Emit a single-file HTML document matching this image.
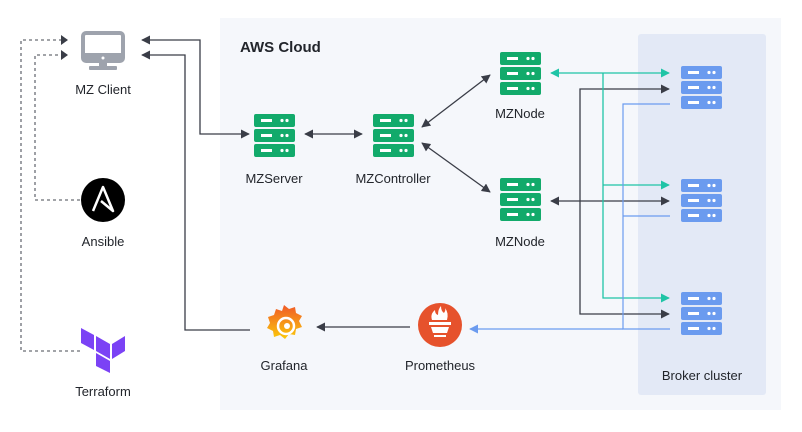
<!DOCTYPE html>
<html><head><style>
body{margin:0;background:#fff;}
svg{display:block;font-family:"Liberation Sans",Arial,sans-serif;}
</style></head><body>
<svg width="802" height="432" viewBox="0 0 802 432" xmlns="http://www.w3.org/2000/svg">
<defs>
<marker id="ad" viewBox="0 0 10 10" refX="9" refY="5" markerWidth="9" markerHeight="9" markerUnits="userSpaceOnUse" orient="auto-start-reverse"><path d="M0,0 L10,5 L0,10 z" fill="#3a3d47"/></marker>
<marker id="at" viewBox="0 0 10 10" refX="9" refY="5" markerWidth="9" markerHeight="9" markerUnits="userSpaceOnUse" orient="auto-start-reverse"><path d="M0,0 L10,5 L0,10 z" fill="#1fc4a6"/></marker>
<marker id="ab" viewBox="0 0 10 10" refX="9" refY="5" markerWidth="9" markerHeight="9" markerUnits="userSpaceOnUse" orient="auto-start-reverse"><path d="M0,0 L10,5 L0,10 z" fill="#6b9bef"/></marker>
<g id="srv">
<rect x="0" y="0" width="41" height="13" rx="2"/>
<rect x="0" y="15" width="41" height="13" rx="2"/>
<rect x="0" y="30" width="41" height="13" rx="2"/>
<g fill="#fff"><rect x="7" y="5" width="11" height="3"/><rect x="7" y="20" width="11" height="3"/><rect x="7" y="35" width="11" height="3"/>
<circle cx="28" cy="6.5" r="1.6"/><circle cx="33" cy="6.5" r="1.6"/><circle cx="28" cy="21.5" r="1.6"/><circle cx="33" cy="21.5" r="1.6"/><circle cx="28" cy="36.5" r="1.6"/><circle cx="33" cy="36.5" r="1.6"/></g>
</g>
</defs>
<rect x="220" y="18" width="561" height="392" fill="#f5f7fb"/>
<rect x="638" y="34" width="128" height="361" rx="3" fill="#e3e9f6"/>
<text x="240" y="52" font-size="15" font-weight="bold" fill="#22252b">AWS Cloud</text>

<!-- dashed -->
<g fill="none" stroke="#6a6d75" stroke-width="1.3" stroke-dasharray="3,3">
<path d="M80,200 H35 V55 H62"/>
<path d="M80,351 H21 V40 H62"/>
</g>
<path d="M61,35 L68,40 L61,45z M61,50 L68,55 L61,60z" fill="#3a3d47"/>

<!-- client lines -->
<g fill="none" stroke="#3a3d47" stroke-width="1.3">
<path d="M142,40 H200 V134 H249" marker-start="url(#ad)" marker-end="url(#ad)"/>
<path d="M142,55 H185 V330 H250" marker-start="url(#ad)"/>
<path d="M305,134 H362" marker-start="url(#ad)" marker-end="url(#ad)"/>
<path d="M422,127 L490,75" marker-start="url(#ad)" marker-end="url(#ad)"/>
<path d="M422,143 L490,192" marker-start="url(#ad)" marker-end="url(#ad)"/>
<path d="M410,327 H317" marker-end="url(#ad)"/>
<path d="M551,201 H669" marker-start="url(#ad)" marker-end="url(#ad)"/>
<path d="M669,89 H580 V314 H669" marker-start="url(#ad)" marker-end="url(#ad)"/>
</g>
<g fill="none" stroke="#1fc4a6" stroke-width="1.3">
<path d="M551,73 H669" marker-start="url(#at)" marker-end="url(#at)"/>
<path d="M603,73 V298 H669" marker-end="url(#at)"/>
<path d="M603,185 H669" marker-end="url(#at)"/>
</g>
<g fill="none" stroke="#6b9bef" stroke-width="1.2">
<path d="M670,104 H623 V329 H670"/>
<path d="M623,216 H670"/>
<path d="M623,329 H470" marker-end="url(#ab)"/>
</g>

<!-- monitor -->
<rect x="83" y="33" width="40" height="28" rx="3" fill="none" stroke="#9ea3ad" stroke-width="4"/>
<rect x="83" y="53" width="40" height="8" fill="#9ea3ad"/>
<circle cx="103" cy="58" r="1.5" fill="#fff"/>
<rect x="99" y="61" width="8" height="6" fill="#9ea3ad"/>
<rect x="89" y="66" width="28" height="4" rx="1" fill="#9ea3ad"/>
<text x="103" y="94" font-size="13" text-anchor="middle" fill="#22252b">MZ Client</text>

<!-- ansible -->
<circle cx="103" cy="200" r="22" fill="#000"/>
<path d="M93,211 L103,187 L113,211 L101,201" fill="none" stroke="#fff" stroke-width="2.5" stroke-linejoin="round"/>
<text x="103" y="246" font-size="13" text-anchor="middle" fill="#22252b">Ansible</text>

<!-- terraform -->
<g fill="#7b42f5">
<polygon points="81,328 94,335 94,350 81,343"/>
<polygon points="96,336 110,344 110,359 96,351"/>
<polygon points="112,344 125,336 125,351 112,359"/>
<polygon points="96,353 110,361 110,373 96,366"/>
</g>
<text x="103" y="396" font-size="13" text-anchor="middle" fill="#22252b">Terraform</text>

<g fill="#12aa6b">
<use href="#srv" x="254" y="114"/>
<use href="#srv" x="373" y="114"/>
<use href="#srv" x="500" y="52"/>
<use href="#srv" x="500" y="178"/>
</g>
<g fill="#6b9bef">
<use href="#srv" x="681" y="66"/>
<use href="#srv" x="681" y="179"/>
<use href="#srv" x="681" y="292"/>
</g>
<g font-size="13" text-anchor="middle" fill="#22252b">
<text x="274" y="183">MZServer</text>
<text x="393" y="183">MZController</text>
<text x="520" y="118">MZNode</text>
<text x="520" y="246">MZNode</text>
<text x="284" y="370">Grafana</text>
<text x="440" y="370">Prometheus</text>
<text x="702" y="380">Broker cluster</text>
</g>

<!-- grafana -->
<defs><linearGradient id="gg" x1="0" y1="0" x2="0" y2="1"><stop offset="0" stop-color="#f05a28"/><stop offset="1" stop-color="#fbca0a"/></linearGradient></defs>
<path d="M284,305 l5,4 6,-2 1,6 6,3 -3,5 3,6 -6,2 -1,6 -6,-1 -4,5 -5,-4 -6,2 -1,-6 -6,-3 3,-5 -2,-6 6,-2 2,-6 6,2z" fill="url(#gg)"/>
<circle cx="286" cy="326" r="8" fill="none" stroke="#fff" stroke-width="2.5"/>
<circle cx="287" cy="326" r="3" fill="#fff"/>

<!-- prometheus -->
<circle cx="440" cy="325" r="22" fill="#e6522c"/>
<path d="M432,320 q-2,-6 3,-10 q0,4 3,5 q0,-6 3,-9 q0,5 3,7 q2,-3 1,-5 q4,5 2,12z" fill="#fff"/>
<rect x="429" y="322" width="22" height="3" fill="#fff"/>
<path d="M431,327 h18 l-2,6 h-14z" fill="#fff"/>
<rect x="434" y="335" width="12" height="2" fill="#fff"/>
</svg>
</body></html>
